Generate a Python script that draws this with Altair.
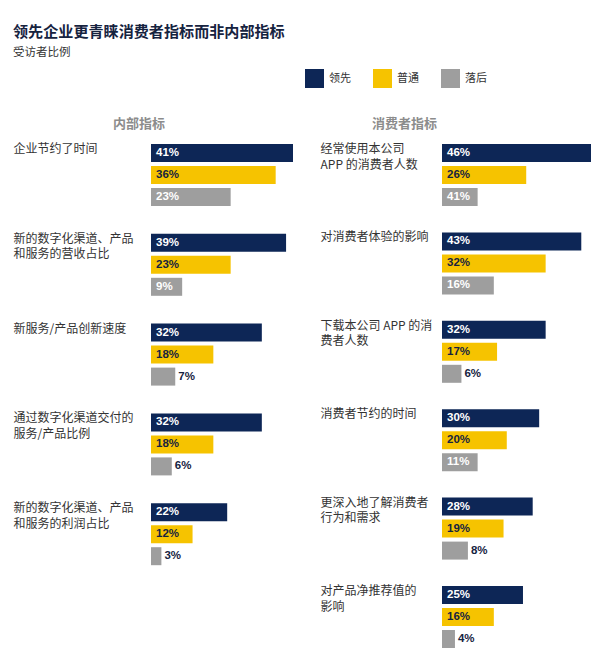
import altair as alt
import pandas as pd

title_text = "领先企业更青睐消费者指标而非内部指标"
subtitle_text = "受访者比例"
series_names = ["领先", "普通", "落后"]
series_colors = ["#0d2656", "#f6c300", "#9e9e9e"]

internal_title = "内部指标"
internal_categories = [
    "企业节约了时间",
    "新的数字化渠道、产品\n和服务的营收占比",
    "新服务/产品创新速度",
    "通过数字化渠道交付的\n服务/产品比例",
    "新的数字化渠道、产品\n和服务的利润占比",
]
internal_leader = [41, 39, 32, 32, 22]
internal_average = [36, 23, 18, 18, 12]
internal_laggard = [23, 9, 7, 6, 3]
internal_laggard_printed = ["23%", "9%", "7%", "6%", "3%"]

consumer_title = "消费者指标"
consumer_categories = [
    "经常使用本公司\nAPP 的消费者人数",
    "对消费者体验的影响",
    "下载本公司 APP 的消\n费者人数",
    "消费者节约的时间",
    "更深入地了解消费者\n行为和需求",
    "对产品净推荐值的\n影响",
]
consumer_leader = [46, 43, 32, 30, 28, 25]
consumer_average = [26, 32, 17, 20, 19, 16]
consumer_laggard = [11, 16, 6, 11, 8, 4]
consumer_laggard_printed = ["41%", "16%", "6%", "11%", "8%", "4%"]

CJK = "Noto Sans CJK SC"
NUM = "Liberation Sans"
DARK = "#16233f"


def make_df(cats, leader, average, laggard, laggard_printed):
    rows = []
    for i, c in enumerate(cats):
        rows.append({"cat": c, "series": series_names[0], "value": leader[i], "label": f"{leader[i]}%"})
        rows.append({"cat": c, "series": series_names[1], "value": average[i], "label": f"{average[i]}%"})
        rows.append({"cat": c, "series": series_names[2], "value": laggard[i], "label": laggard_printed[i]})
    return pd.DataFrame(rows)


def panel(df, cats, title, title_dx, xmax, width, step, pad_inner, label_pad, show_legend):
    n = len(cats)
    height = step * (n - pad_inner)
    base = alt.Chart(df).encode(
        y=alt.Y(
            "cat:N",
            sort=cats,
            scale=alt.Scale(paddingInner=pad_inner, paddingOuter=0),
            axis=alt.Axis(
                title=None, domain=False, ticks=False, tickSize=0, grid=False,
                labelAlign="left", labelBaseline="top", labelPadding=label_pad,
                labelFont=CJK, labelFontSize=12, labelColor="#333333",
                labelLineHeight=15.5, labelOffset=-31,
                labelExpr="split(datum.label, '\\n')", labelLimit=0,
                labelOverlap=False, labelBound=False,
            ),
        ),
        yOffset=alt.YOffset(
            "series:N", sort=series_names,
            scale=alt.Scale(paddingInner=0.1818, paddingOuter=0),
        ),
    )
    color_kwargs = dict(scale=alt.Scale(domain=series_names, range=series_colors), sort=series_names)
    if show_legend:
        legend = alt.Legend(
            title=None, orient="none", direction="horizontal", legendX=154, legendY=-75,
            symbolType="square", symbolSize=361, symbolStrokeWidth=0, symbolOpacity=1,
            labelFont=CJK, labelFontSize=11, labelColor="#333333", labelOffset=5,
            columnPadding=22, padding=0,
        )
        color = alt.Color("series:N", legend=legend, **color_kwargs)
    else:
        color = alt.Color("series:N", legend=None, **color_kwargs)
    bars = base.mark_bar(opacity=1).encode(
        x=alt.X("value:Q", scale=alt.Scale(domain=[0, xmax], nice=False), axis=None),
        color=color,
    )
    txt = dict(align="left", baseline="middle", font=NUM, fontSize=11.5, fontWeight="bold")
    white_in = base.transform_filter(
        f"datum.series != '{series_names[1]}' && datum.value >= 9"
    ).mark_text(dx=5, color="#ffffff", **txt).encode(x=alt.datum(0), text="label:N")
    dark_in = base.transform_filter(
        f"datum.series == '{series_names[1]}'"
    ).mark_text(dx=5, color=DARK, **txt).encode(x=alt.datum(0), text="label:N")
    dark_out = base.transform_filter(
        f"datum.series == '{series_names[2]}' && datum.value < 9"
    ).mark_text(dx=3, color=DARK, **txt).encode(x="value:Q", text="label:N")
    return alt.layer(bars, white_in, dark_in, dark_out).properties(
        width=width,
        height=height,
        title=alt.TitleParams(
            text=title, anchor="start", frame="group", dx=title_dx,
            font=CJK, fontSize=13, fontWeight="bold", color="#8c8c8c", offset=12,
        ),
    )


left = panel(make_df(internal_categories, internal_leader, internal_average, internal_laggard, internal_laggard_printed),
             internal_categories, internal_title, -38, 41, 142, 89.8, 27.8 / 89.8, 138, True)
right = panel(make_df(consumer_categories, consumer_leader, consumer_average, consumer_laggard, consumer_laggard_printed),
              consumer_categories, consumer_title, -70, 46, 149, 88.4, 26.4 / 88.4, 122, False)

chart = alt.hconcat(left, right, spacing=27).properties(
    title=alt.TitleParams(
        text=title_text, subtitle=subtitle_text, anchor="start", frame="bounds",
        font=CJK, fontSize=15.1, fontWeight="bold", color=DARK,
        subtitleFont=CJK, subtitleFontSize=11.5, subtitleColor="#333333",
        subtitlePadding=6, offset=11,
    ),
    padding={"left": 5, "top": 17, "right": 0, "bottom": 2},
    background="#ffffff",
).configure_view(stroke=None, strokeWidth=0)

chart.save("out.html", embed_options={"renderer": "svg", "actions": False})
